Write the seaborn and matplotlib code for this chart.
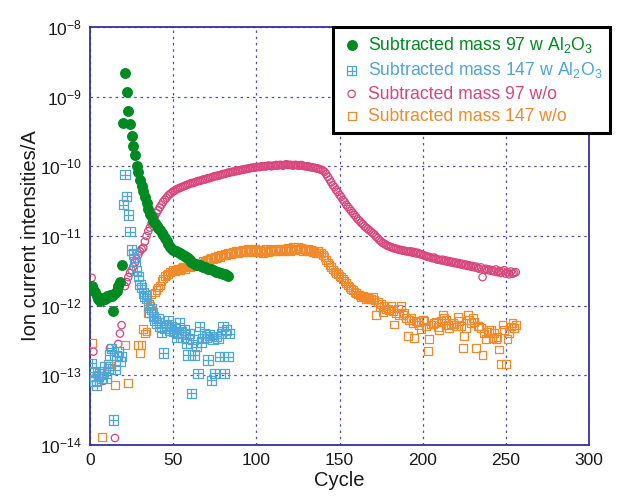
import numpy as np
import pandas as pd
import matplotlib
matplotlib.use("Agg")
import matplotlib.pyplot as plt
from matplotlib.path import Path
from matplotlib.ticker import FixedLocator, NullLocator, MultipleLocator
import seaborn as sns

nan = np.nan

# log10 of the ion current (A), one entry per cycle starting at cycle 1
m97_al2o3 = [
    -11.72, -11.76, -11.80, -11.86, -11.90, -11.94, -11.92, -11.89, -11.91, -11.86,
    -11.88, -11.84, -11.86, -12.08, -11.82, -11.79, -11.72, -11.66, -11.42, -9.38,
    -8.66, -8.94, -9.21, -9.39, -9.57, -9.71, -9.84, -9.99, -10.08, -10.20,
    -10.28, -10.36, -10.44, -10.53, -10.61, -10.68, -10.73, -10.78, -10.81, -10.85,
    -10.89, -10.92, -10.96, -10.99, -11.03, -11.07, -11.12, -11.16, -11.19, -11.20,
    -11.21, -11.22, -11.23, -11.24, -11.26, -11.27, -11.28, -11.30, -11.31, -11.34,
    -11.37, -11.39, -11.40, -11.41, -11.42, -11.42, -11.43, -11.44, -11.45, -11.46,
    -11.47, -11.47, -11.48, -11.49, -11.50, -11.51, -11.52, -11.53, -11.53, -11.54,
    -11.55, -11.56, -11.58,
]

m147_al2o3 = [
    -12.83, -12.95, -13.08, -13.14, -13.02, -12.98, -13.05, -12.95, -12.88, -13.04,
    -12.90, -12.71, -12.61, -13.64, -12.92, -12.72, -12.66, -12.80, -12.73, -10.55,
    -10.12, -10.43, -10.70, -10.94, -11.20, -11.26, -11.37, -11.50, -11.58, -11.70,
    -11.74, -11.82, -11.86, -11.90, -11.99, -12.09, -12.05, -12.16, -12.21, -12.25,
    -12.18, -12.30, -12.38, -12.68, -12.32, -12.28, -12.21, -12.35, -12.30, -12.37,
    -12.33, -12.45, -12.40, -12.25, -12.38, -12.45, -12.35, -12.54, -12.71, -12.40,
    -13.26, -12.49, -12.71, -12.59, -12.97, -12.30, -12.52, -12.47, -12.40, -12.45,
    -12.78, -12.42, -13.07, -12.48, -12.97, -12.44, -12.47, -12.73, -12.40, -12.30,
    -12.97, -12.35, -12.73, -12.40,
]

m97_wo = [
    -11.60, -12.66, nan, -13.00, nan, nan, nan, -13.08, nan, nan,
    nan, -12.61, nan, nan, -13.90, nan, -12.55, -12.40, -12.28, nan,
    -11.72, -11.66, -11.59, -11.53, -11.49, -11.44, -11.38, -11.33, -11.27, -11.22,
    -11.19, -11.17, -11.08, -11.00, -10.93, -10.88, -10.82, -10.77, -10.72, -10.67,
    -10.63, -10.59, -10.55, -10.51, -10.48, -10.45, -10.42, -10.40, -10.38, -10.36,
    -10.35, -10.33, -10.32, -10.31, -10.30, -10.29, -10.28, -10.27, -10.26, -10.25,
    -10.24, -10.24, -10.23, -10.22, -10.21, -10.21, -10.20, -10.19, -10.19, -10.18,
    -10.17, -10.17, -10.16, -10.15, -10.14, -10.14, -10.13, -10.13, -10.12, -10.11,
    -10.11, -10.10, -10.09, -10.09, -10.08, -10.08, -10.07, -10.07, -10.06, -10.06,
    -10.05, -10.05, -10.04, -10.04, -10.03, -10.03, -10.02, -10.02, -10.02, -10.01,
    -10.01, -10.01, -10.00, -10.00, -10.00, -10.00, -9.99, -9.99, -10.00, -9.99,
    -9.99, -9.98, -9.99, -9.98, -9.98, -9.99, -9.98, -9.97, -9.98, -9.98,
    -9.98, -9.99, -9.98, -9.98, -9.99, -9.99, -9.98, -9.99, -10.00, -10.00,
    -10.00, -10.01, -10.01, -10.02, -10.02, -10.03, -10.03, -10.04, -10.05, -10.06,
    -10.08, -10.11, -10.15, -10.19, -10.23, -10.27, -10.30, -10.34, -10.37, -10.41,
    -10.44, -10.48, -10.51, -10.55, -10.58, -10.61, -10.64, -10.67, -10.70, -10.73,
    -10.76, -10.78, -10.81, -10.83, -10.86, -10.88, -10.90, -10.92, -10.94, -10.96,
    -10.98, -11.01, -11.03, -11.06, -11.08, -11.10, -11.11, -11.13, -11.14, -11.15,
    -11.16, -11.17, -11.18, -11.18, -11.19, -11.20, -11.20, -11.21, -11.21, -11.22,
    -11.22, -11.23, -11.22, -11.24, -11.23, -11.25, -11.24, -11.26, -11.26, -11.27,
    -11.28, -11.29, -11.30, -11.30, -11.31, -11.32, -11.31, -11.33, -11.34, -11.34,
    -11.35, -11.34, -11.36, -11.35, -11.37, -11.36, -11.38, -11.37, -11.39, -11.38,
    -11.40, -11.39, -11.41, -11.40, -11.42, -11.41, -11.43, -11.42, -11.44, -11.43,
    -11.45, -11.44, -11.46, -11.47, -11.45, -11.59, -11.48, -11.47, -11.49, -11.48,
    -11.50, -11.49, -11.51, -11.48, -11.52, -11.50, -11.53, -11.51, -11.49, -11.54,
    -11.52, -11.55, -11.51, -11.54, -11.53, -11.52,
]

m147_wo = [
    -12.53, -12.94, nan, nan, nan, nan, -13.89, nan, nan, nan,
    -12.83, -12.86, nan, nan, -13.14, nan, nan, nan, nan, nan,
    -12.56, nan, -13.11, nan, nan, nan, nan, nan, -12.57, -12.68,
    -12.57, -12.33, -12.40, -12.37, -12.10, -12.00, -11.83, -12.09, -11.81, -11.78,
    -11.74, -11.71, -11.64, -11.61, -11.58, -11.56, -11.54, -11.52, -11.51, -11.49,
    -11.50, -11.48, -11.47, -11.49, -11.46, -11.45, -11.47, -11.44, -11.43, -11.45,
    -11.42, -11.43, -11.40, -11.42, -11.39, -11.40, -11.38, -11.36, -11.37, -11.34,
    -11.35, -11.33, -11.31, -11.33, -11.30, -11.31, -11.29, -11.30, -11.27, -11.28,
    -11.26, -11.28, -11.25, -11.24, -11.26, -11.23, -11.25, -11.22, -11.24, -11.21,
    -11.23, -11.20, -11.22, -11.21, -11.19, -11.23, -11.20, -11.22, -11.19, -11.21,
    -11.23, -11.20, -11.22, -11.24, -11.21, -11.19, -11.23, -11.20, -11.22, -11.21,
    -11.19, -11.22, -11.20, -11.18, -11.21, -11.19, -11.22, -11.20, -11.17, -11.21,
    -11.19, -11.16, -11.20, -11.18, -11.15, -11.19, -11.17, -11.21, -11.18, -11.20,
    -11.19, -11.22, -11.20, -11.23, -11.21, -11.24, -11.22, -11.25, -11.24, -11.27,
    -11.30, -11.34, -11.38, -11.42, -11.45, -11.48, -11.51, -11.53, -11.55, -11.57,
    -11.59, -11.62, -11.65, -11.68, -11.71, -11.73, -11.76, -11.78, -11.80, -11.82,
    -11.84, -11.85, -11.87, -11.86, -11.88, -11.90, -11.89, -11.91, -11.90, -11.88,
    -11.92, -12.13, -11.95, -12.02, -11.97, -12.09, -12.00, -12.05, -12.04, -12.06,
    -12.01, -12.08, -12.27, -12.10, -12.04, -12.14, -12.01, -12.13, -12.11, -12.18,
    -12.44, -12.20, -12.18, -12.25, -12.46, -12.22, -12.23, -12.28, -12.33, -12.20,
    -12.22, -12.30, -12.65, -12.48, -12.27, -12.27, -12.25, -12.23, -12.31, -12.35,
    -12.22, -12.13, -12.18, -12.20, -12.28, -12.32, -12.27, -12.25, -12.27, -12.30,
    -12.16, -12.22, -12.29, -12.61, -12.44, -12.32, -12.13, -12.20, -12.25, -12.18,
    -12.24, -12.61, -12.29, -12.30, -12.32, -12.71, -12.40, -12.48, -12.38, -12.35,
    -12.35, -12.46, -12.39, -12.48, -12.45, -12.63, -12.84, -12.27, -12.35, -12.84,
    -12.48, -12.39, -12.30, -12.25, -12.32, -12.28,
]

labels = [
    r"Subtracted mass 97 w Al$_2$O$_3$",
    r"Subtracted mass 147 w Al$_2$O$_3$",
    "Subtracted mass 97 w/o",
    "Subtracted mass 147 w/o",
]
colors = ["#008a22", "#4fa6d8", "#d9467d", "#f28a2c"]
y_ticks = [1e-14, 1e-13, 1e-12, 1e-11, 1e-10, 1e-9, 1e-8]

# square divided into four cells
box_grid = Path(
    [(-1, -1), (1, -1), (1, 1), (-1, 1), (-1, -1), (0, -1), (0, 1), (-1, 0), (1, 0)],
    [Path.MOVETO, Path.LINETO, Path.LINETO, Path.LINETO, Path.CLOSEPOLY,
     Path.MOVETO, Path.LINETO, Path.MOVETO, Path.LINETO],
)


def frame(values):
    df = pd.DataFrame({"cycle": np.arange(1, len(values) + 1), "logI": values})
    df = df.dropna()
    df["current"] = 10.0 ** df["logI"]
    return df


sns.set_style("white")
plt.rcParams["font.family"] = ["Liberation Sans", "DejaVu Sans"]
plt.rcParams["mathtext.fontset"] = "custom"
plt.rcParams["mathtext.rm"] = "Liberation Sans"
plt.rcParams["mathtext.it"] = "Liberation Sans:italic"
plt.rcParams["mathtext.bf"] = "Liberation Sans:bold"

navy = "#34349a"

fig = plt.figure(figsize=(6.32, 4.99), dpi=100)
ax = fig.add_axes([0.1424, 0.1082, 0.7896, 0.8377])

sns.scatterplot(data=frame(m97_wo), x="cycle", y="current", ax=ax, marker="o",
                s=28, color=colors[2], facecolor="none", edgecolor=colors[2],
                linewidth=0.9, label=labels[2], zorder=3)
sns.scatterplot(data=frame(m147_wo), x="cycle", y="current", ax=ax, marker="s",
                s=32, color=colors[3], facecolor="none", edgecolor=colors[3],
                linewidth=0.9, label=labels[3], zorder=3)
sns.scatterplot(data=frame(m147_al2o3), x="cycle", y="current", ax=ax, marker=box_grid,
                s=45, color=colors[1], facecolor="none", edgecolor=colors[1],
                linewidth=0.9, label=labels[1], zorder=4)
sns.scatterplot(data=frame(m97_al2o3), x="cycle", y="current", ax=ax, marker="o",
                s=62, color=colors[0], edgecolor=colors[0], linewidth=0,
                label=labels[0], zorder=5)

ax.set_yscale("log")
ax.set_ylim(1e-14, 1e-8)
ax.set_xlim(0, 300)
ax.xaxis.set_major_locator(MultipleLocator(50))
ax.yaxis.set_major_locator(FixedLocator(y_ticks))
ax.yaxis.set_minor_locator(NullLocator())

ax.grid(True, which="major", color=navy, linestyle=(0, (2, 3)), linewidth=0.9, alpha=0.85)
for sp in ax.spines.values():
    sp.set_color(navy)
    sp.set_linewidth(1.3)
ax.tick_params(axis="both", which="major", direction="in", length=5, width=1,
               color=navy, labelsize=12.5, labelcolor="#1a1a1a", pad=6)

ax.set_xlabel("Cycle", fontsize=14.5, color="#1a1a1a", labelpad=2)
ax.set_ylabel("Ion current intensities/A", fontsize=14.5, color="#1a1a1a", labelpad=0)

handles, labs = ax.get_legend_handles_labels()
order = [labs.index(l) for l in labels]
leg = ax.legend([handles[i] for i in order], [labs[i] for i in order],
                loc="upper right", bbox_to_anchor=(610 / 632, 472 / 499),
                bbox_transform=fig.transFigure, fontsize=12.7, frameon=True,
                fancybox=False, edgecolor="black", framealpha=1,
                handletextpad=0.3, handlelength=1.2, labelspacing=0.3,
                borderpad=0.45, borderaxespad=0)
leg.get_frame().set_linewidth(2.2)
for txt, c in zip(leg.get_texts(), colors):
    txt.set_color(c)
leg.set_zorder(10)

fig.savefig("out.png", dpi=100)
